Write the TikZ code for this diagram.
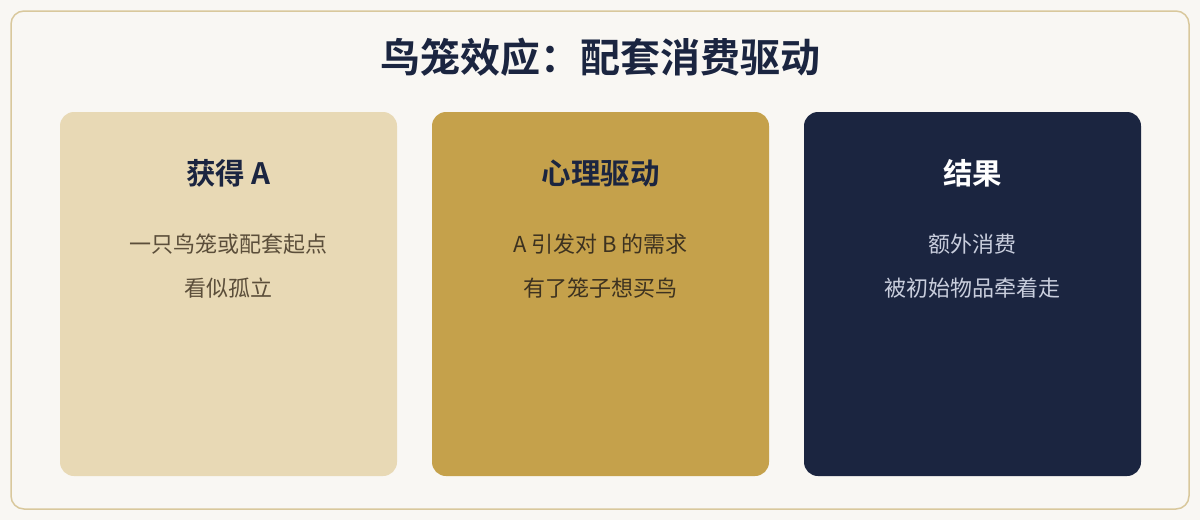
\documentclass[tikz,border=0pt]{standalone}
\usepackage{fontspec}
\setmainfont{Noto Sans CJK SC}[BoldFont={Noto Sans CJK SC Bold}]
\usepackage{tikz}

\definecolor{pagebg}{HTML}{F9F7F3}
\definecolor{frameline}{HTML}{D9C89C}
\definecolor{navy}{HTML}{1B2540}
\definecolor{sand}{HTML}{E8D9B5}
\definecolor{gold}{HTML}{C5A14B}
\definecolor{sandtext}{HTML}{5B4E3A}
\definecolor{goldtext}{HTML}{3D3220}
\definecolor{navytext}{HTML}{C9CEDD}

\begin{document}
\begin{tikzpicture}
		[x=1pt,y=-1pt,
		card/.style={inner sep=0pt, minimum width=337pt, minimum height=364pt, rounded corners=14pt},
		title/.style={font=\fontsize{40}{48}\selectfont\bfseries, color=navy},
		head/.style={font=\fontsize{29.5}{34}\selectfont\bfseries},
		body/.style={font=\fontsize{22}{26}\selectfont}]
		
		\useasboundingbox (0,0) rectangle (1200,520);
		\fill[pagebg] (0,0) rectangle (1200,520);
		\draw[frameline, line width=1.5pt, rounded corners=13pt, fill=pagebg] (11,11) rectangle (1189,509);
		
		\node[title] (ttl) at (600,57) {鸟笼效应：配套消费驱动};
		
		% three cards
		\node[card, fill=sand] (c1) at (228.5,294) {};
		\node[card, fill=gold] (c2) at (600.5,294) {};
		\node[card, fill=navy] (c3) at (972.5,294) {};
		
		\node[head, color=navy] (h1) at (228.5,173) {获得 A};
		\node[body, color=sandtext] (b1a) at (228.5,244) {一只鸟笼或配套起点};
		\node[body, color=sandtext] (b1b) at (228.5,288) {看似孤立};
		
		\node[head, color=navy] (h2) at (600.5,173) {心理驱动};
		\node[body, color=goldtext] (b2a) at (600.5,244) {A 引发对 B 的需求};
		\node[body, color=goldtext] (b2b) at (600.5,288) {有了笼子想买鸟};
		
		\node[head, color=white] (h3) at (972.5,173) {结果};
		\node[body, color=navytext] (b3a) at (972.5,244) {额外消费};
		\node[body, color=navytext] (b3b) at (972.5,288) {被初始物品牵着走};
		
		\end{tikzpicture}
\end{document}
